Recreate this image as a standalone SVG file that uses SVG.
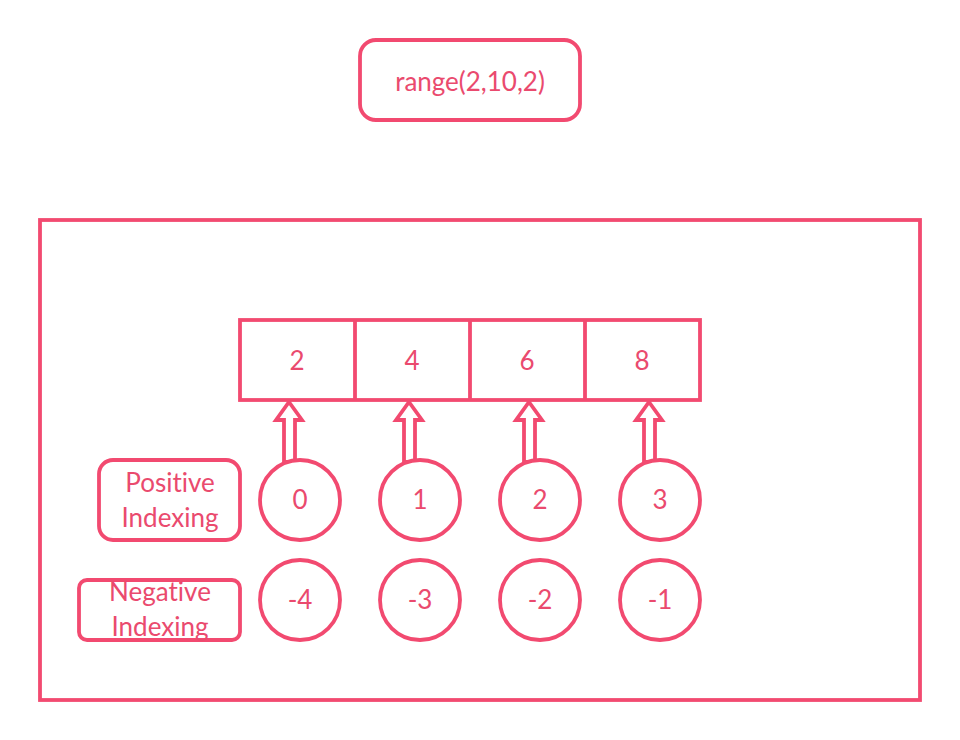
<svg xmlns="http://www.w3.org/2000/svg" width="960" height="740" viewBox="0 0 960 740">
<style>
.s{fill:#ffffff;stroke:#f24a70;stroke-width:3.8}
.t{font-family:Lato,"Open Sans","Liberation Sans",sans-serif;font-size:26px;fill:#ea4a6e;text-anchor:middle;font-variant-ligatures:none}
</style>
<rect width="960" height="740" fill="#ffffff"/>
<g id="title"><rect class="s" x="360" y="40" width="220" height="80" rx="16"/><text class="t" x="470" y="91">range(2,10,2)</text></g>
<g id="frame"><rect class="s" x="40" y="220" width="880" height="480" fill="none"/></g>
<g id="array">
<rect class="s" x="240" y="320" width="460" height="80"/>
<line class="s" x1="355" y1="320" x2="355" y2="400"/>
<line class="s" x1="470" y1="320" x2="470" y2="400"/>
<line class="s" x1="585" y1="320" x2="585" y2="400"/>
<text class="t" x="297" y="370">2</text>
<text class="t" x="412" y="370">4</text>
<text class="t" x="527" y="370">6</text>
<text class="t" x="642" y="370">8</text>
</g>
<g id="connectors">
<polygon class="s" points="289,402 302,420 295,420 295,462 284,462 284,420 276,420"/>
<polygon class="s" points="409,402 422,420 415,420 415,462 404,462 404,420 396,420"/>
<polygon class="s" points="529,402 542,420 535,420 535,462 524,462 524,420 516,420"/>
<polygon class="s" points="649,402 662,420 655,420 655,462 644,462 644,420 636,420"/>
</g>
<g id="pos-label"><rect class="s" x="99" y="460" width="141" height="80" rx="14"/><text class="t" x="170" y="492">Positive</text><text class="t" x="170" y="527">Indexing</text></g>
<g id="neg-label"><rect class="s" x="79" y="580" width="161" height="60" rx="8"/><text class="t" x="160" y="601">Negative</text><text class="t" x="160" y="636">Indexing</text></g>
<g id="p0"><circle class="s" cx="300" cy="500" r="40"/><text class="t" x="300" y="509">0</text></g>
<g id="p1"><circle class="s" cx="420" cy="500" r="40"/><text class="t" x="420" y="509">1</text></g>
<g id="p2"><circle class="s" cx="540" cy="500" r="40"/><text class="t" x="540" y="509">2</text></g>
<g id="p3"><circle class="s" cx="660" cy="500" r="40"/><text class="t" x="660" y="509">3</text></g>
<g id="n4"><circle class="s" cx="300" cy="600" r="40"/><text class="t" x="300" y="609">-4</text></g>
<g id="n3"><circle class="s" cx="420" cy="600" r="40"/><text class="t" x="420" y="609">-3</text></g>
<g id="n2"><circle class="s" cx="540" cy="600" r="40"/><text class="t" x="540" y="609">-2</text></g>
<g id="n1"><circle class="s" cx="660" cy="600" r="40"/><text class="t" x="660" y="609">-1</text></g>
</svg>
